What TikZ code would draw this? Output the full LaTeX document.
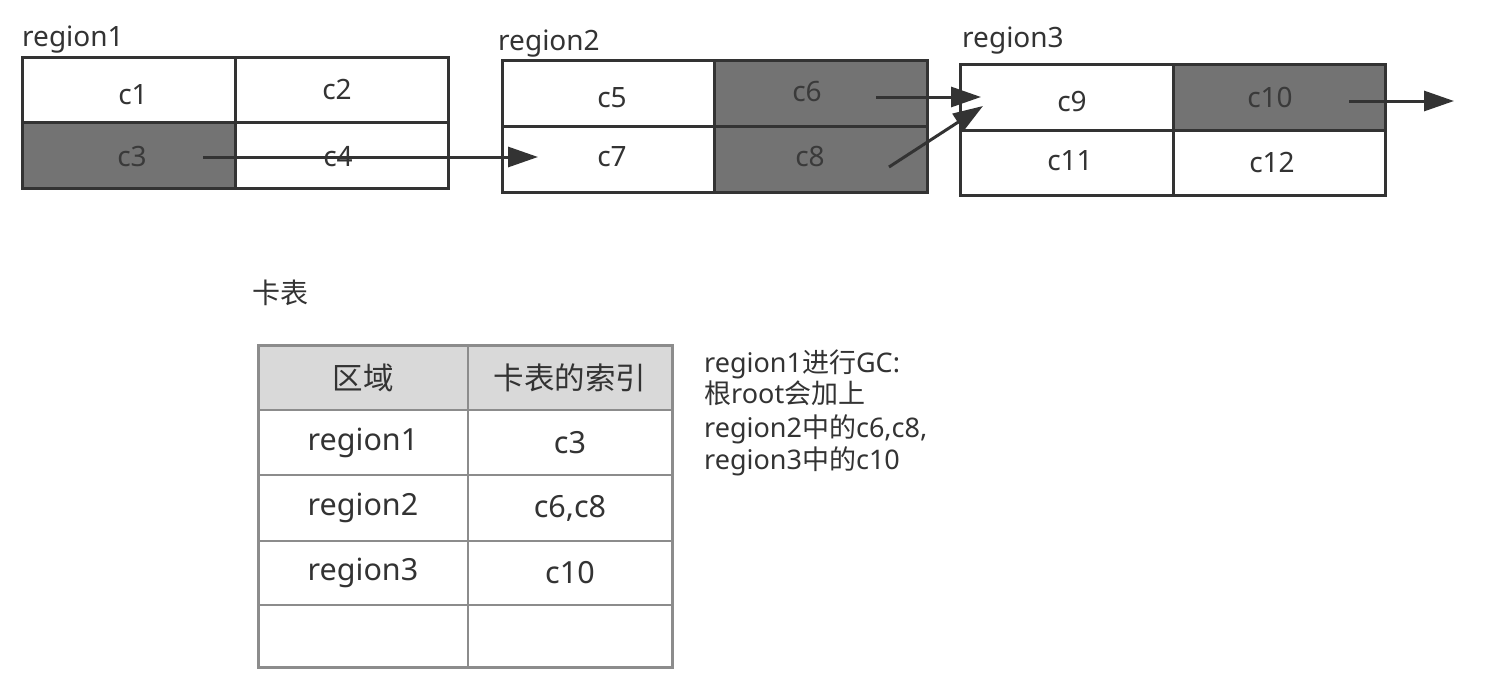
\documentclass[tikz,border=0pt]{standalone}
\usepackage{fontspec}
\setmainfont{Noto Sans}
\newfontfamily\zhfont{Noto Sans CJK SC}
\newcommand{\zh}[1]{{\zhfont #1}}
\usetikzlibrary{arrows.meta}
\definecolor{ink}{HTML}{333333}
\definecolor{cellfill}{HTML}{737373}
\definecolor{celltext}{HTML}{3A3A3A}
\definecolor{tabline}{HTML}{8C8C8C}
\definecolor{tabhead}{HTML}{D9D9D9}
\begin{document}
\begin{tikzpicture}[x=1pt,y=-1pt,
  cell/.style={draw=ink,line width=3pt,inner sep=0pt,outer sep=0pt,minimum width=213pt,minimum height=66pt},
  dark/.style={cell,fill=cellfill},
  ctext/.style={text=ink,font=\fontsize{28}{32}\selectfont,inner sep=0pt},
  dtext/.style={ctext,text=celltext},
  rlabel/.style={text=ink,font=\fontsize{28}{32}\selectfont,inner sep=0pt,anchor=base west},
  link/.style={draw=ink,line width=3pt,-{Triangle[length=30pt,width=20pt]}},
  tcell/.style={draw=tabline,line width=2pt,inner sep=0pt,outer sep=0pt,text=ink,font=\fontsize{30.5}{32}\selectfont},
  note/.style={text=ink,font=\fontsize{27}{30}\selectfont,inner sep=0pt,anchor=base west}]
\fill[white] (0,0) rectangle (1495,696);
\useasboundingbox (0,0) rectangle (1495,696);

% region 1
\node[cell,minimum width=213pt,minimum height=65pt] (r1a) at (128.5,89.5) {};
\node[cell,minimum width=213pt,minimum height=65pt] (r1b) at (341.5,89.5) {};
\node[dark,minimum width=213pt,minimum height=66pt] (r1c) at (128.5,155) {};
\node[cell,minimum width=213pt,minimum height=66pt] (r1d) at (341.5,155) {};
\node[ctext] (t1) at (133,95) {c1};
\node[ctext] (t2) at (337,90) {c2};
\node[dtext] (t3) at (132,157) {c3};
\node[ctext] (t4) at (338,157) {c4};
\node[rlabel] (l1) at (22,46) {region1};

% region 2
\node[cell,minimum width=212pt] (r2a) at (608,93) {};
\node[dark,minimum width=213pt] (r2b) at (820.5,93) {};
\node[cell,minimum width=212pt] (r2c) at (608,159) {};
\node[dark,minimum width=213pt] (r2d) at (820.5,159) {};
\node[ctext] (t5) at (612,98) {c5};
\node[dtext] (t6) at (807,92) {c6};
\node[ctext] (t7) at (612,157) {c7};
\node[dtext] (t8) at (810,157) {c8};
\node[rlabel] (l2) at (498,50) {region2};

% region 3
\node[cell,minimum width=213pt] (r3a) at (1066.5,97) {};
\node[dark,minimum width=212pt] (r3b) at (1279,97) {};
\node[cell,minimum width=213pt,minimum height=65pt] (r3c) at (1066.5,162.5) {};
\node[cell,minimum width=212pt,minimum height=65pt] (r3d) at (1279,162.5) {};
\node[ctext] (t9) at (1072,102) {c9};
\node[dtext] (t10) at (1270,97) {c10};
\node[ctext] (t11) at (1070,161) {c11};
\node[ctext] (t12) at (1272,163) {c12};
\node[rlabel] (l3) at (962,47) {region3};

% connectors
\coordinate (s3) at (203,157);
\coordinate (e7) at (538,157);
\coordinate (s6) at (876,97);
\coordinate (e9a) at (981,97);
\coordinate (s8) at (889,167);
\coordinate (e9b) at (983,106);
\coordinate (s10) at (1349,101);
\coordinate (eout) at (1454,101);
\draw[link] (s3) -- (e7);
\draw[link] (s6) -- (e9a);
\draw[link] (s8) -- (e9b);
\draw[link] (s10) -- (eout);

% card table
\node[text=ink,font=\fontsize{28}{30}\selectfont,inner sep=0pt,anchor=west] (ktitle) at (252,293) {\zh{卡表}};
\node[tcell,fill=tabhead,minimum width=210pt,minimum height=65pt] (h1) at (363,377.5) {\zh{区域}};
\node[tcell,fill=tabhead,minimum width=204pt,minimum height=65pt] (h2) at (570,377.5) {\zh{卡表的索引}};
\node[tcell,minimum width=210pt,minimum height=65pt] (a1) at (363,442.5) {\raisebox{-2pt}{region1}};
\node[tcell,minimum width=204pt,minimum height=65pt] (b1) at (570,442.5) {c3};
\node[tcell,minimum width=210pt,minimum height=66pt] (a2) at (363,508) {\raisebox{-2pt}{region2}};
\node[tcell,minimum width=204pt,minimum height=66pt] (b2) at (570,508) {c6,c8};
\node[tcell,minimum width=210pt,minimum height=64pt] (a3) at (363,573) {\raisebox{-2pt}{region3}};
\node[tcell,minimum width=204pt,minimum height=64pt] (b3) at (570,573) {c10};
\node[tcell,minimum width=210pt,minimum height=62pt] (a4) at (363,636) {};
\node[tcell,minimum width=204pt,minimum height=62pt] (b4) at (570,636) {};
\draw[tabline,line width=3pt] (h1.north west) rectangle (b4.south east);

% note
\node[note] (n1) at (704,372) {region1\zh{进行}GC:};
\node[note] (n2) at (704,403) {\zh{根}root\zh{会加上}};
\node[note] (n3) at (704,437) {region2\zh{中的}c6,c8,};
\node[note] (n4) at (704,469) {region3\zh{中的}c10};
\end{tikzpicture}
\end{document}
